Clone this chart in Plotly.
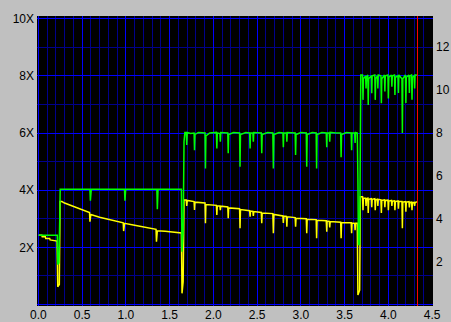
import plotly.graph_objects as go

# ---- data ----
green_x = [0.005, 0.217, 0.222, 0.235, 0.245, 0.25,
           0.59, 0.595, 0.605, 0.985, 0.99, 0.998, 1.355, 1.36, 1.368, 1.635,
           1.642, 1.655, 1.665, 1.675, 1.69, 1.696, 1.702, 1.74, 1.78, 1.785, 1.79, 1.83,
           1.905, 1.91, 1.915, 1.96, 2.035, 2.04, 2.045, 2.075, 2.08, 2.085,
           2.165, 2.17, 2.175, 2.23, 2.30, 2.305, 2.31, 2.37, 2.415, 2.42, 2.425,
           2.452, 2.457, 2.462, 2.548, 2.553, 2.558, 2.62, 2.68, 2.686, 2.692, 2.75,
           2.795, 2.80, 2.805, 2.835, 2.84, 2.845, 2.935, 2.94, 2.945, 3.0,
           3.062, 3.067, 3.072, 3.13, 3.175, 3.18, 3.185, 3.24, 3.29, 3.296, 3.30,
           3.325, 3.33, 3.335, 3.40, 3.455, 3.46, 3.465, 3.52, 3.575, 3.58, 3.585,
           3.615, 3.62, 3.625, 3.645, 3.652, 3.658, 3.672, 3.68, 3.685,
           3.705, 3.71, 3.715, 3.74, 3.745, 3.75, 3.765, 3.77, 3.775, 3.805, 3.81, 3.815,
           3.845, 3.85, 3.855, 3.875, 3.88, 3.885, 3.915, 3.92, 3.925, 3.955, 3.96, 3.965,
           3.995, 4.0, 4.005, 4.035, 4.04, 4.045, 4.07, 4.075, 4.08, 4.11, 4.115, 4.12,
           4.155, 4.16, 4.165, 4.195, 4.2, 4.205, 4.235, 4.24, 4.245, 4.265, 4.27, 4.275,
           4.295, 4.30, 4.305, 4.325]
green_y = [2.42, 2.42, 1.4, 1.45, 3.0, 4.03,
           4.03, 3.63, 4.03, 4.03, 3.63, 4.03, 4.03, 3.33, 4.03, 4.03,
           1.85, 2.5, 5.7, 6.02, 6.02, 5.58, 6.02, 5.98, 6.0, 5.4, 5.95, 6.02,
           6.0, 4.76, 5.9, 6.0, 6.02, 5.46, 6.0, 5.98, 5.7, 6.02,
           6.0, 5.29, 5.95, 6.02, 6.0, 4.82, 5.95, 6.02, 6.0, 5.46, 6.0,
           6.0, 5.7, 6.02, 6.0, 5.29, 5.95, 6.02, 6.0, 4.76, 5.95, 6.02,
           6.0, 5.5, 6.0, 6.0, 5.7, 6.02, 6.0, 5.23, 5.95, 6.02,
           6.0, 4.82, 5.95, 6.02, 6.0, 4.76, 5.95, 6.02, 6.0, 5.5, 6.0,
           6.0, 5.7, 6.02, 6.0, 6.0, 5.15, 5.95, 6.02, 6.0, 5.4, 6.0,
           6.0, 5.65, 6.02, 6.0, 4.4, 2.1, 2.1, 4.4, 8.03,
           8.03, 7.16, 7.9, 8.0, 7.56, 7.95, 8.03, 6.98, 7.9, 8.0, 7.39, 8.0,
           8.03, 7.16, 7.9, 8.0, 7.56, 8.03, 8.0, 7.04, 7.9, 8.03, 7.45, 8.0,
           8.03, 7.21, 7.95, 8.03, 7.62, 8.0, 8.03, 7.33, 7.95, 8.0, 7.4, 8.03,
           7.9, 6.0, 7.9, 8.03, 7.05, 7.95, 8.03, 7.4, 8.0, 8.03, 7.16, 7.95,
           8.0, 7.56, 8.03, 8.03]

yellow_x = [0.005, 0.04, 0.045, 0.08, 0.085, 0.13, 0.135, 0.215, 0.222, 0.24, 0.248,
            0.27, 0.30, 0.35, 0.40, 0.45, 0.50, 0.585, 0.59, 0.60, 0.70, 0.80, 0.90,
            0.97, 0.975, 0.985, 1.10, 1.20, 1.30, 1.345, 1.35, 1.36, 1.45, 1.55, 1.635,
            1.642, 1.655, 1.665, 1.69, 1.696, 1.702, 1.78, 1.785, 1.79,
            1.905, 1.91, 1.915, 2.035, 2.04, 2.045, 2.075, 2.08, 2.085,
            2.165, 2.17, 2.175, 2.30, 2.305, 2.31, 2.415, 2.42, 2.425,
            2.452, 2.457, 2.462, 2.548, 2.553, 2.558, 2.68, 2.686, 2.692,
            2.795, 2.80, 2.805, 2.835, 2.84, 2.845, 2.935, 2.94, 2.945,
            3.062, 3.067, 3.072, 3.175, 3.18, 3.185, 3.29, 3.296, 3.30,
            3.325, 3.33, 3.335, 3.455, 3.46, 3.465, 3.575, 3.58, 3.585,
            3.615, 3.62, 3.625, 3.645, 3.652, 3.672, 3.68,
            3.705, 3.71, 3.715, 3.74, 3.745, 3.75, 3.765, 3.77, 3.775, 3.805, 3.81, 3.815,
            3.845, 3.85, 3.855, 3.875, 3.88, 3.885, 3.915, 3.92, 3.925, 3.955, 3.96, 3.965,
            3.995, 4.0, 4.005, 4.035, 4.04, 4.045, 4.07, 4.075, 4.08, 4.11, 4.115, 4.12,
            4.155, 4.16, 4.165, 4.195, 4.2, 4.205, 4.235, 4.24, 4.245, 4.265, 4.27, 4.275,
            4.295, 4.30, 4.305, 4.325]
yellow_y = [2.42, 2.42, 2.37, 2.37, 2.31, 2.31, 2.26, 2.22, 0.62, 0.7, 3.6,
            3.6, 3.55, 3.49, 3.43, 3.37, 3.31, 3.22, 2.9, 3.15, 3.05, 2.98, 2.9,
            2.86, 2.57, 2.84, 2.77, 2.71, 2.65, 2.63, 2.2, 2.58, 2.56, 2.52, 2.5,
            0.39, 0.8, 3.66, 3.66, 3.45, 3.64, 3.6, 3.31, 3.58,
            3.55, 2.84, 3.5, 3.47, 3.13, 3.45, 3.45, 3.3, 3.44,
            3.41, 3.02, 3.38, 3.35, 2.67, 3.32, 3.28, 3.07, 3.27,
            3.26, 3.1, 3.25, 3.22, 2.84, 3.2, 3.18, 2.49, 3.15,
            3.1, 2.85, 3.09, 3.08, 2.72, 3.07, 3.04, 2.72, 3.02,
            3.0, 2.49, 2.98, 2.97, 2.32, 2.95, 2.93, 2.55, 2.92,
            2.91, 2.7, 2.9, 2.88, 2.32, 2.87, 2.86, 2.49, 2.85,
            2.84, 2.6, 2.84, 2.84, 0.33, 0.5, 3.77,
            3.77, 3.3, 3.72, 3.72, 3.45, 3.7, 3.72, 3.2, 3.68, 3.7, 3.4, 3.68,
            3.7, 3.3, 3.66, 3.68, 3.45, 3.68, 3.66, 3.2, 3.64, 3.66, 3.4, 3.64,
            3.65, 3.3, 3.62, 3.64, 3.45, 3.62, 3.63, 3.3, 3.6, 3.62, 3.35, 3.6,
            3.6, 2.67, 3.58, 3.6, 3.25, 3.58, 3.6, 3.4, 3.57, 3.58, 3.3, 3.56,
            3.57, 3.45, 3.56, 3.6]

x_ticks = [0.0, 0.5, 1.0, 1.5, 2.0, 2.5, 3.0, 3.5, 4.0, 4.5]
x_labels = ["0.0", "0.5", "1.0", "1.5", "2.0", "2.5", "3.0", "3.5", "4.0", "4.5"]
left_ticks = [0, 2, 4, 6, 8, 10]
left_labels = ["", "2X", "4X", "6X", "8X", "10X"]
right_ticks = [2, 4, 6, 8, 10, 12]
right_labels = ["2", "4", "6", "8", "10", "12"]
marker_x = 4.333

# ---- figure ----
FONT = dict(family="Liberation Sans, Arial, sans-serif", size=12, color="black")
BLUE = "#0000ff"
NAVY = "#00008c"

fig = go.Figure()
fig.add_trace(go.Scatter(x=yellow_x, y=yellow_y, mode="lines",
                         line=dict(color="#ffff00", width=1.5), hoverinfo="skip"))
fig.add_trace(go.Scatter(x=green_x, y=green_y, mode="lines",
                         line=dict(color="#00ff00", width=1.5), hoverinfo="skip"))
fig.add_trace(go.Scatter(x=[None], y=[None], yaxis="y2", mode="lines",
                         showlegend=False, hoverinfo="skip"))

fig.add_shape(type="line", x0=marker_x, x1=marker_x, xref="x", y0=0, y1=1, yref="paper",
              line=dict(color="#ff0000", width=1), layer="above")

fig.update_layout(
    width=451, height=322,
    margin=dict(l=37, r=18, t=16, b=16, pad=0, autoexpand=False),
    paper_bgcolor="#c0c0c0", plot_bgcolor="black",
    showlegend=False, font=FONT,
    xaxis=dict(range=[-0.015, 4.51], tickmode="array", tickvals=x_ticks, ticktext=x_labels,
               showgrid=True, gridcolor=BLUE, gridwidth=1, zeroline=False, automargin=False,
               showline=False, ticks="", tickfont=FONT, ticklabelstandoff=0,
               minor=dict(dtick=0.1, tick0=0, showgrid=True, gridcolor=NAVY, gridwidth=1)),
    yaxis=dict(range=[-0.0525, 10.094], tickmode="array", tickvals=left_ticks, ticktext=left_labels,
               showgrid=True, gridcolor=BLUE, gridwidth=1, zeroline=False, automargin=False,
               showline=False, ticks="", tickfont=FONT, ticklabelstandoff=2,
               minor=dict(dtick=1, tick0=0, showgrid=True, gridcolor=NAVY, gridwidth=1)),
    yaxis2=dict(range=[-0.07, 13.459], overlaying="y", side="right", anchor="x",
                tickmode="array", tickvals=right_ticks, ticktext=right_labels, automargin=False,
                showgrid=False, zeroline=False, showline=False, ticks="",
                tickfont=FONT, ticklabelstandoff=2),
)

fig.write_html("out.html")
